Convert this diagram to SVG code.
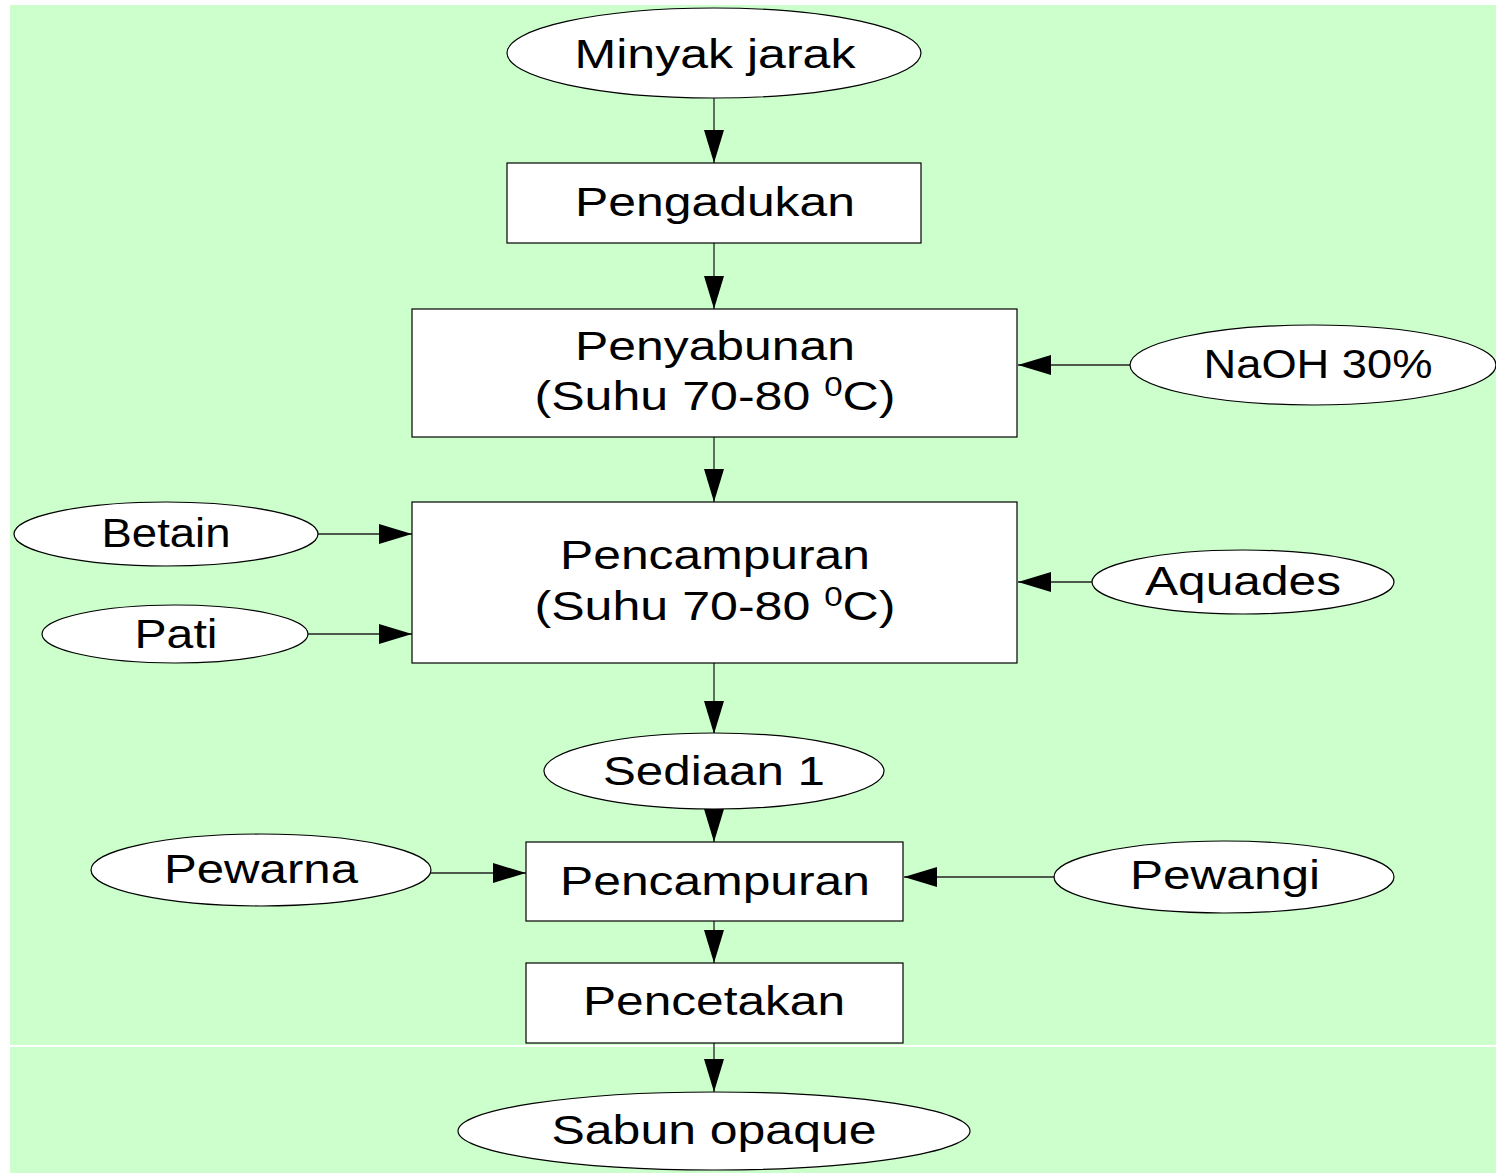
<svg xmlns="http://www.w3.org/2000/svg" width="1496" height="1173" viewBox="0 0 1496 1173">
<defs>
<marker id="ah" markerWidth="33" markerHeight="20" refX="33" refY="10" orient="auto" markerUnits="userSpaceOnUse">
<path d="M0,0 L33,10 L0,20 Z" fill="#000"/>
</marker>
<style>
.bg{fill:#CCFFCC}
.box{fill:#fff;stroke:#000;stroke-width:1.2}
.ell{fill:#fff;stroke:#000;stroke-width:1.2}
.t{font-family:"Liberation Sans",Arial,sans-serif;font-size:41px;fill:#000;text-anchor:middle}
.c{stroke:#222;stroke-width:1.3;fill:none;marker-end:url(#ah)}
</style>
</defs>
<rect class="bg" x="10" y="5" width="1486" height="1168"/>
<line x1="10" y1="1046" x2="1496" y2="1046" stroke="#fff" stroke-width="2"/>

<g id="connectors">
<line class="c" x1="714" y1="98" x2="714" y2="163"/>
<line class="c" x1="714" y1="243" x2="714" y2="309"/>
<line class="c" x1="1130" y1="365" x2="1018" y2="365"/>
<line class="c" x1="714" y1="437" x2="714" y2="502"/>
<line class="c" x1="318" y1="534" x2="412" y2="534"/>
<line class="c" x1="308" y1="634" x2="412" y2="634"/>
<line class="c" x1="1092" y1="582" x2="1018" y2="582"/>
<line class="c" x1="714" y1="663" x2="714" y2="734"/>
<line class="c" x1="714" y1="808" x2="714" y2="842"/>
<line class="c" x1="431" y1="873" x2="526" y2="873"/>
<line class="c" x1="1055" y1="877" x2="904" y2="877"/>
<line class="c" x1="714" y1="921" x2="714" y2="963"/>
<line class="c" x1="714" y1="1043" x2="714" y2="1092"/>
</g>

<g id="minyak">
<ellipse class="ell" cx="714" cy="53" rx="207" ry="45"/>
<text class="t" x="715" y="68" textLength="281" lengthAdjust="spacingAndGlyphs">Minyak jarak</text>
</g>
<g id="pengadukan">
<rect class="box" x="507" y="163" width="414" height="80"/>
<text class="t" x="715" y="216" textLength="280" lengthAdjust="spacingAndGlyphs">Pengadukan</text>
</g>
<g id="penyabunan">
<rect class="box" x="412" y="309" width="605" height="128"/>
<text class="t" x="715" y="360" textLength="280" lengthAdjust="spacingAndGlyphs">Penyabunan</text>
<text class="t" x="715" y="410" textLength="361" lengthAdjust="spacingAndGlyphs">(Suhu 70-80 <tspan font-size="27" dy="-14">0</tspan><tspan dy="14">C)</tspan></text>
</g>
<g id="naoh">
<ellipse class="ell" cx="1313" cy="365" rx="183" ry="40"/>
<text class="t" x="1318" y="378" textLength="229" lengthAdjust="spacingAndGlyphs">NaOH 30%</text>
</g>
<g id="pencampuran1">
<rect class="box" x="412" y="502" width="605" height="161"/>
<text class="t" x="715" y="569" textLength="310" lengthAdjust="spacingAndGlyphs">Pencampuran</text>
<text class="t" x="715" y="620" textLength="361" lengthAdjust="spacingAndGlyphs">(Suhu 70-80 <tspan font-size="27" dy="-14">0</tspan><tspan dy="14">C)</tspan></text>
</g>
<g id="betain">
<ellipse class="ell" cx="166" cy="534" rx="152" ry="32"/>
<text class="t" x="166" y="547" textLength="129" lengthAdjust="spacingAndGlyphs">Betain</text>
</g>
<g id="pati">
<ellipse class="ell" cx="175" cy="634" rx="133" ry="29"/>
<text class="t" x="176" y="648" textLength="83" lengthAdjust="spacingAndGlyphs">Pati</text>
</g>
<g id="aquades">
<ellipse class="ell" cx="1243" cy="582" rx="151" ry="32"/>
<text class="t" x="1243" y="595" textLength="196" lengthAdjust="spacingAndGlyphs">Aquades</text>
</g>
<g id="sediaan">
<ellipse class="ell" cx="714" cy="771" rx="170" ry="38"/>
<text class="t" x="714" y="785" textLength="222" lengthAdjust="spacingAndGlyphs">Sediaan 1</text>
</g>
<g id="pencampuran2">
<rect class="box" x="526" y="842" width="377" height="79"/>
<text class="t" x="715" y="895" textLength="310" lengthAdjust="spacingAndGlyphs">Pencampuran</text>
</g>
<g id="pewarna">
<ellipse class="ell" cx="261" cy="870" rx="170" ry="36"/>
<text class="t" x="261" y="883" textLength="194" lengthAdjust="spacingAndGlyphs">Pewarna</text>
</g>
<g id="pewangi">
<ellipse class="ell" cx="1224" cy="877" rx="170" ry="36"/>
<text class="t" x="1225" y="889" textLength="190" lengthAdjust="spacingAndGlyphs">Pewangi</text>
</g>
<g id="pencetakan">
<rect class="box" x="526" y="963" width="377" height="80"/>
<text class="t" x="714" y="1015" textLength="262" lengthAdjust="spacingAndGlyphs">Pencetakan</text>
</g>
<g id="sabun">
<ellipse class="ell" cx="714" cy="1131" rx="256" ry="39"/>
<text class="t" x="714" y="1144" textLength="325" lengthAdjust="spacingAndGlyphs">Sabun opaque</text>
</g>
</svg>
